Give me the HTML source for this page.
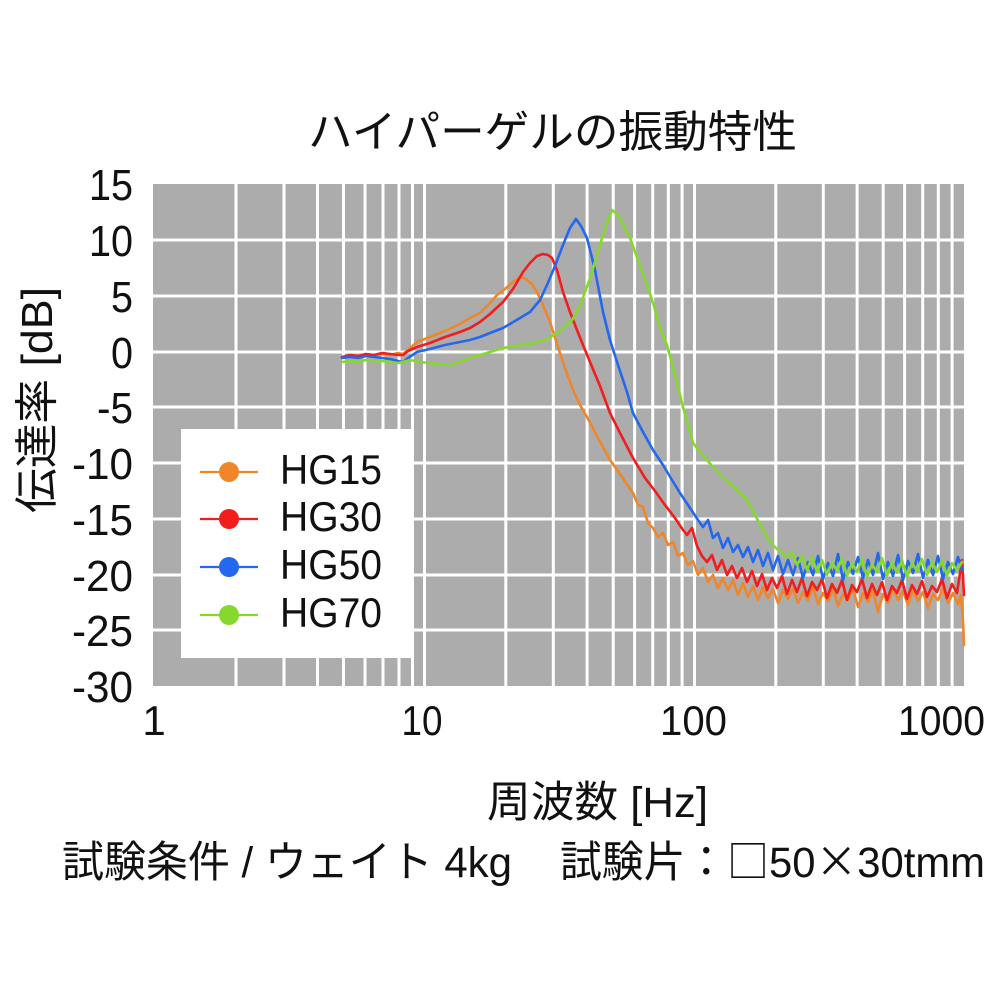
<!DOCTYPE html>
<html>
<head>
<meta charset="utf-8">
<style>
html,body{margin:0;padding:0;background:#fff;}
svg{display:block;}
text{font-family:"Liberation Sans","Noto Sans CJK JP",sans-serif;fill:#111;}
.cjk{font-family:"Noto Sans CJK JP","Liberation Sans",sans-serif;}
</style>
</head>
<body>
<svg width="1000" height="1000" viewBox="0 0 1000 1000" xmlns="http://www.w3.org/2000/svg">
<rect x="0" y="0" width="1000" height="1000" fill="#fff"/>
<!-- plot area -->
<rect x="153" y="184" width="811" height="502" fill="#acacac"/>
<g stroke="#fff" stroke-width="3">
<line x1="153" x2="964" y1="240" y2="240"/>
<line x1="153" x2="964" y1="296" y2="296"/>
<line x1="153" x2="964" y1="352" y2="352"/>
<line x1="153" x2="964" y1="407" y2="407"/>
<line x1="153" x2="964" y1="463" y2="463"/>
<line x1="153" x2="964" y1="519" y2="519"/>
<line x1="153" x2="964" y1="575" y2="575"/>
<line x1="153" x2="964" y1="630" y2="630"/>
<line y1="184" y2="686" x1="236" x2="236"/>
<line y1="184" y2="686" x1="284" x2="284"/>
<line y1="184" y2="686" x1="317.5" x2="317.5"/>
<line y1="184" y2="686" x1="343.5" x2="343.5"/>
<line y1="184" y2="686" x1="365" x2="365"/>
<line y1="184" y2="686" x1="383" x2="383"/>
<line y1="184" y2="686" x1="399" x2="399"/>
<line y1="184" y2="686" x1="412.5" x2="412.5"/>
<line y1="184" y2="686" x1="424.5" x2="424.5"/>
<line y1="184" y2="686" x1="505.8" x2="505.8"/>
<line y1="184" y2="686" x1="553.3" x2="553.3"/>
<line y1="184" y2="686" x1="587.1" x2="587.1"/>
<line y1="184" y2="686" x1="613.2" x2="613.2"/>
<line y1="184" y2="686" x1="634.6" x2="634.6"/>
<line y1="184" y2="686" x1="652.7" x2="652.7"/>
<line y1="184" y2="686" x1="668.3" x2="668.3"/>
<line y1="184" y2="686" x1="682.1" x2="682.1"/>
<line y1="184" y2="686" x1="694.5" x2="694.5"/>
<line y1="184" y2="686" x1="775.8" x2="775.8"/>
<line y1="184" y2="686" x1="823.3" x2="823.3"/>
<line y1="184" y2="686" x1="857.1" x2="857.1"/>
<line y1="184" y2="686" x1="883.2" x2="883.2"/>
<line y1="184" y2="686" x1="904.6" x2="904.6"/>
<line y1="184" y2="686" x1="922.7" x2="922.7"/>
<line y1="184" y2="686" x1="938.3" x2="938.3"/>
<line y1="184" y2="686" x1="952.1" x2="952.1"/>
</g>

<!-- series -->
<g fill="none" stroke-width="2.6" stroke-linejoin="round" stroke-linecap="round">
<polyline stroke="#f0862a" points="342,358 350,356 358,357 366,355 374,356 382,354 390,355 398,353 403,354 408,350 417,342 430,337 445,331 460,324 470,318 480,313 490,303 497,295 505,289 513,282 520,277 526,279 532,284 538,294 543,305 550,322 557,344 565,368 573,390 580,405 587,417 598,438 610,460 620,474 628,486 633,493 638,505 643,507 648,523 653,528 658,537 663,533 668,545 673,542 678,556 683,553 688,565 693,561 698,575 703,568 708,582 713,575 718,588 723,578 728,590 733,580 738,595 743,583 748,597 753,586 758,600 763,587 768,598 773,589 778,603 783,590 788,599 793,588 798,603 803,592 808,600 813,587 818,604 823,593 828,601 833,589 838,606 843,594 848,600 853,588 858,607 863,593 868,602 873,590 878,612 883,594 888,603 893,588 898,600 903,591 908,605 913,590 918,601 923,592 928,608 933,594 938,600 943,588 948,603 953,593 958,604 961,595 963,620 964,645"/>
<polyline stroke="#f21d1d" points="342,357 350,355 358,356 366,354 374,355 382,353 390,354 398,355 403,355 408,351 417,347 430,343 445,337 460,332 470,328 480,322 490,314 503,302 513,289 523,272 530,263 537,256 543,254 548,255 552,258 557,270 563,292 570,312 577,330 583,345 590,362 600,386 610,413 620,433 633,458 645,478 655,491 665,505 675,518 683,530 687,535 692,528 697,546 702,556 707,562 712,555 717,570 722,560 727,575 732,566 737,578 742,568 747,582 752,571 757,586 762,574 767,590 772,578 777,588 782,576 787,594 792,580 797,592 802,578 807,596 812,582 817,590 822,579 827,598 832,584 837,593 842,580 847,600 852,585 857,592 862,579 867,598 872,584 877,595 882,582 887,600 892,586 897,593 902,580 907,599 912,585 917,594 922,581 927,597 932,586 937,592 942,579 947,598 952,584 957,593 962,560 964,595"/>
<polyline stroke="#2368ee" points="342,358 350,357 358,358 366,356 374,357 382,358 390,359 398,361 403,362 408,358 417,352 430,349 445,345 460,342 470,340 480,337 490,333 503,328 515,321 530,312 540,300 547,285 555,266 563,245 570,228 576,219 581,226 587,238 595,270 603,312 610,340 618,365 627,392 633,413 643,432 653,450 663,465 672,480 680,493 690,508 698,520 703,527 708,520 713,538 718,533 723,548 728,538 733,552 738,545 743,557 748,547 753,562 758,550 763,566 768,553 773,570 778,556 783,574 788,560 793,575 798,558 803,578 808,562 813,575 818,556 823,579 828,563 833,576 838,554 843,580 848,562 853,574 858,557 863,578 868,560 873,575 878,553 883,579 888,562 893,576 898,555 903,580 908,561 913,573 918,554 923,578 928,560 933,575 938,556 943,579 948,562 953,574 958,557 962,570"/>
<polyline stroke="#86d92c" points="342,362 350,361 358,362 366,360 374,361 382,361 390,362 398,363 403,362 410,360 420,362 430,363 440,364 450,365 460,362 470,358 480,355 490,352 503,348 515,346 527,344 537,343 547,339 557,333 565,327 572,320 577,312 584,295 590,278 595,262 600,245 605,228 612,210 618,215 625,228 630,238 638,260 647,285 654,306 660,328 667,345 675,375 683,407 688,425 693,443 700,452 713,467 725,479 735,488 747,500 755,515 762,528 767,537 772,544 777,549 782,553 787,557 792,552 797,565 802,556 807,570 812,557 817,572 822,560 827,575 832,562 837,571 842,558 847,576 852,563 857,572 862,559 867,577 872,564 877,572 882,558 887,576 892,562 897,573 902,560 907,577 912,563 917,571 922,559 927,575 932,562 937,572 942,560 947,576 952,563 957,570 962,562"/>
</g>

<!-- legend -->
<rect x="181" y="429" width="232" height="229" fill="#fff"/>
<g stroke-width="2.2">
<line x1="200" x2="258" y1="472" y2="472" stroke="#f0862a"/>
<circle cx="229" cy="472" r="10" fill="#f0862a" stroke="none"/>
<line x1="200" x2="258" y1="519" y2="519" stroke="#f21d1d"/>
<circle cx="229" cy="519" r="10" fill="#f21d1d" stroke="none"/>
<line x1="200" x2="258" y1="567" y2="567" stroke="#2368ee"/>
<circle cx="229" cy="567" r="10" fill="#2368ee" stroke="none"/>
<line x1="200" x2="258" y1="615" y2="615" stroke="#86d92c"/>
<circle cx="229" cy="615" r="10" fill="#86d92c" stroke="none"/>
</g>
<g font-size="42">
<text x="280" y="484" textLength="102" lengthAdjust="spacingAndGlyphs">HG15</text>
<text x="280" y="531" textLength="102" lengthAdjust="spacingAndGlyphs">HG30</text>
<text x="280" y="579" textLength="102" lengthAdjust="spacingAndGlyphs">HG50</text>
<text x="280" y="627" textLength="102" lengthAdjust="spacingAndGlyphs">HG70</text>
</g>

<!-- y tick labels -->
<g font-size="44" text-anchor="end">
<text x="133" y="200" textLength="44" lengthAdjust="spacingAndGlyphs">15</text>
<text x="133" y="256" textLength="44" lengthAdjust="spacingAndGlyphs">10</text>
<text x="133" y="312" textLength="22" lengthAdjust="spacingAndGlyphs">5</text>
<text x="133" y="368" textLength="22" lengthAdjust="spacingAndGlyphs">0</text>
<text x="133" y="423" textLength="36" lengthAdjust="spacingAndGlyphs">-5</text>
<text x="133" y="479" textLength="61" lengthAdjust="spacingAndGlyphs">-10</text>
<text x="133" y="535" textLength="61" lengthAdjust="spacingAndGlyphs">-15</text>
<text x="133" y="591" textLength="61" lengthAdjust="spacingAndGlyphs">-20</text>
<text x="133" y="646" textLength="61" lengthAdjust="spacingAndGlyphs">-25</text>
<text x="133" y="702" textLength="61" lengthAdjust="spacingAndGlyphs">-30</text>
</g>

<!-- x tick labels -->
<g font-size="42" text-anchor="middle">
<text x="154" y="735">1</text>
<text x="422" y="735" textLength="41" lengthAdjust="spacingAndGlyphs">10</text>
<text x="693.5" y="735" textLength="67" lengthAdjust="spacingAndGlyphs">100</text>
<text x="941.5" y="735" textLength="87" lengthAdjust="spacingAndGlyphs">1000</text>
</g>

<!-- title -->
<text x="552.5" y="147" font-size="44" text-anchor="middle" textLength="489" lengthAdjust="spacingAndGlyphs">ハイパーゲルの振動特性</text>

<!-- y axis label -->
<text transform="translate(52,400) rotate(-90)" font-size="44" text-anchor="middle" textLength="226" lengthAdjust="spacingAndGlyphs">伝達率 [dB]</text>

<!-- x axis label -->
<text x="597.5" y="817" font-size="43" text-anchor="middle" textLength="221" lengthAdjust="spacingAndGlyphs">周波数 [Hz]</text>

<!-- bottom note -->
<text x="62" y="877" font-size="43" textLength="450" lengthAdjust="spacingAndGlyphs">試験条件 / ウェイト 4kg</text>
<text x="560" y="877" font-size="43" textLength="425" lengthAdjust="spacingAndGlyphs">試験片<tspan class="cjk">：□</tspan>50<tspan class="cjk">×</tspan>30tmm</text>
</svg>
</body>
</html>
